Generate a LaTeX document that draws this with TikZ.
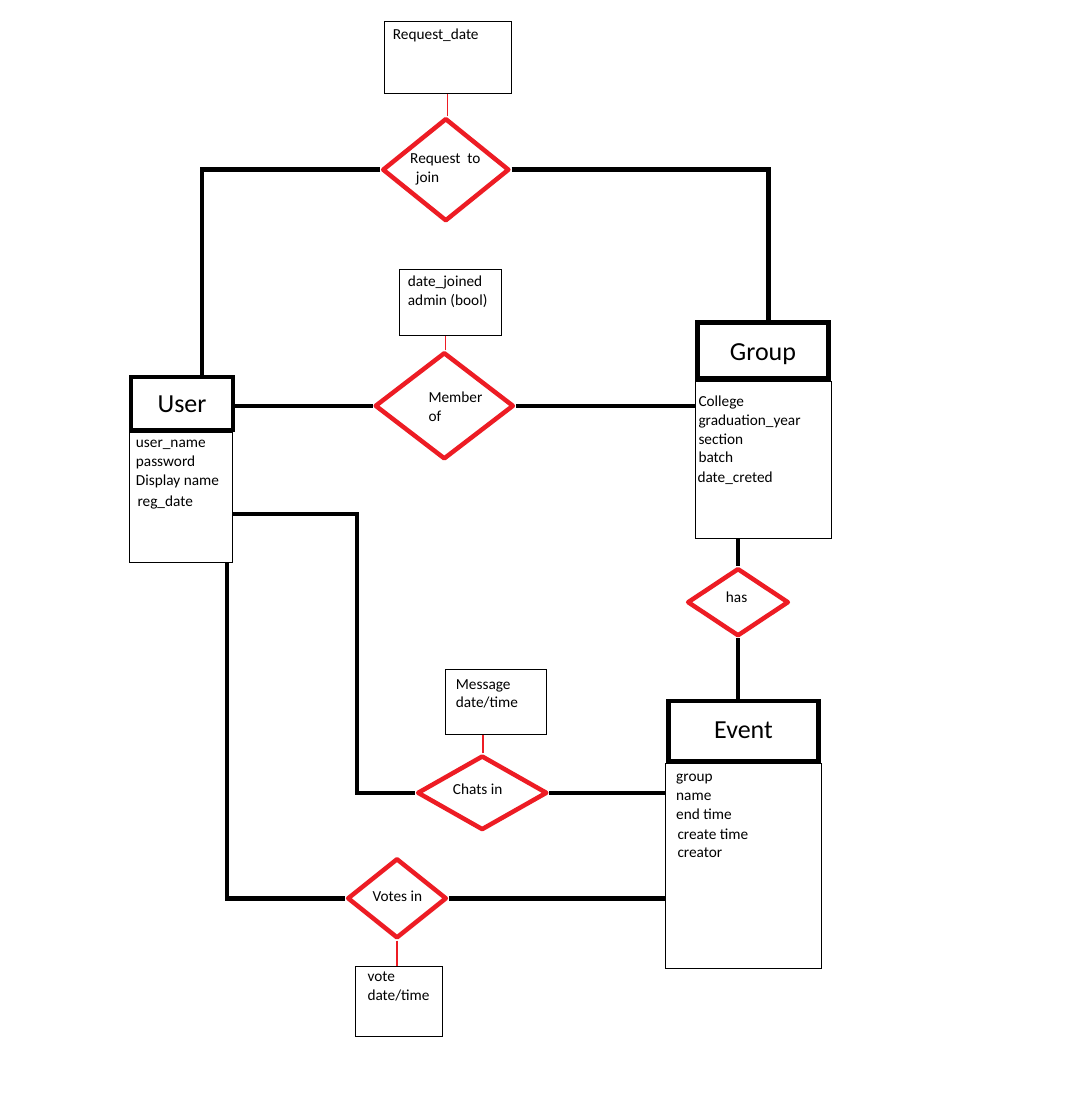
\documentclass[tikz,border=0pt]{standalone}
\usepackage{fontspec}
\setmainfont{Carlito}
\usetikzlibrary{shapes.geometric,backgrounds}
\definecolor{relred}{HTML}{ED1C24}
\tikzset{
  conn/.style={line width=4.5pt, line join=miter},
  attrlink/.style={draw=relred, line width=1.5pt},
  entity/.style={draw, line width=4.5pt, inner sep=0pt, text height=17pt, text depth=0pt,
    font=\fontsize{26}{30}\selectfont},
  attrbox/.style={draw, line width=1pt, inner sep=0pt},
  rel/.style={diamond, draw=relred, line width=4.5pt, line join=round, inner sep=0pt, fill=white},
  txt/.style={anchor=base west, inner sep=0pt, font=\fontsize{15.3}{18}\selectfont},
}
\begin{document}
\begin{tikzpicture}[x=1pt, y=-1pt]
\useasboundingbox (0,0) rectangle (1088,1094);

% entities
\node[entity, minimum width=102pt, minimum height=53pt] (user) at (182,403.5) {User};
\node[attrbox, minimum width=103pt, minimum height=130pt] (uattr) at (181,497) {};
\node[entity, minimum width=131pt, minimum height=56pt, text height=20pt] (group) at (763,350.4) {Group};
\node[attrbox, minimum width=136pt, minimum height=157pt] (gattr) at (763.5,459.7) {};
\node[entity, minimum width=150.4pt, minimum height=60pt, text height=15pt] (event) at (743.5,730.8) {Event};
\node[attrbox, minimum width=156pt, minimum height=205pt] (eattr) at (743.7,865.7) {};

% attribute lists
\node[txt] (u1) at (135.7,447.3) {user\_name};
\node[txt] (u2) at (135.7,466) {password};
\node[txt] (u3) at (135.7,485) {Display name};
\node[txt] (u4) at (137.3,506.7) {reg\_date};

\node[txt] (g1) at (698.3,406) {College};
\node[txt] (g2) at (698.3,425) {graduation\_year};
\node[txt] (g3) at (698.3,444) {section};
\node[txt] (g4) at (698.3,462.7) {batch};
\node[txt] (g5) at (697.3,482.7) {date\_creted};

\node[txt] (e1) at (676,781.7) {group};
\node[txt] (e2) at (676,800) {name};
\node[txt] (e3) at (676,819) {end time};
\node[txt] (e4) at (677.3,839) {create time};
\node[txt] (e5) at (677.3,857.7) {creator};

% relationships
\node[rel, minimum width=127pt, minimum height=103pt] (rj) at (445.8,169.7) {};
\node[txt] (rjt1) at (410,164) {Request\ \ to};
\node[txt] (rjt2) at (415.7,182.5) {join};

\node[rel, minimum width=139pt, minimum height=107pt] (mem) at (444.3,405.8) {};
\node[txt] (memt1) at (428.3,402.7) {Member};
\node[txt] (memt2) at (428.3,421) {of};

\node[rel, minimum width=101.5pt, minimum height=68pt] (has) at (738,602.2) {};
\node[txt] (hast) at (725.7,602.3) {has};

\node[rel, minimum width=130pt, minimum height=74.5pt] (chats) at (482.2,792.8) {};
\node[txt] (chatst) at (452.7,794.3) {Chats in};

\node[rel, minimum width=99.5pt, minimum height=80pt] (votes) at (397,898.3) {};
\node[txt] (votest) at (372.3,901) {Votes in};

% relationship attributes
\node[attrbox, minimum width=127pt, minimum height=72.3pt] (rdate) at (447.8,57.8) {};
\node[txt] (rdatet) at (392.7,39.3) {Request\_date};

\node[attrbox, minimum width=102.4pt, minimum height=65.7pt] (mattr) at (450.5,302.2) {};
\node[txt] (mattr1) at (407.7,286.7) {date\_joined};
\node[txt] (mattr2) at (407.7,305.7) {admin (bool)};

\node[attrbox, minimum width=100.7pt, minimum height=64.7pt] (cattr) at (496.3,701.7) {};
\node[txt] (cattr1) at (455.7,689.3) {Message};
\node[txt] (cattr2) at (455.7,707.7) {date/time};

\node[attrbox, minimum width=86.6pt, minimum height=70pt] (vattr) at (399,1001.7) {};
\node[txt] (vattr1) at (367.3,981.7) {vote};
\node[txt] (vattr2) at (367.3,1000.7) {date/time};

% connectors, kept beneath the shapes
\begin{pgfonlayer}{background}
\fill[white] (0,0) rectangle (1088,1094);
\draw[conn] (rj.west) -| ([xshift=20pt]user.north);
\draw[conn] (rj.east) -| ([xshift=5.5pt]group.north);
\draw[conn] (mem.west -| user.east) -- (mem.west);
\draw[conn] (mem.east) -- (mem.east -| gattr.west);
\draw[conn] (has.north) -- (has.north |- gattr.south);
\draw[conn] (has.south) -- (has.south |- event.north);
\draw[conn] ([yshift=-17pt]uattr.east) -- ++(124,0) |- (chats.west);
\draw[conn] ([xshift=46pt]uattr.south) |- (votes.west);
\draw[conn] (chats.east) -- (chats.east -| eattr.west);
\draw[conn] (votes.east) -- (votes.east -| eattr.west);
\end{pgfonlayer}

\draw[attrlink] ([xshift=1.5pt]rj.north) -- ([xshift=1.5pt]rj.north |- rdate.south);
\draw[attrlink] ([xshift=1.4pt]mem.north) -- ([xshift=1.4pt]mem.north |- mattr.south);
\draw[attrlink] ([xshift=1pt]chats.north) -- ([xshift=1pt]chats.north |- cattr.south);
\draw[attrlink] (votes.south) -- (votes.south |- vattr.north);
\end{tikzpicture}
\end{document}
